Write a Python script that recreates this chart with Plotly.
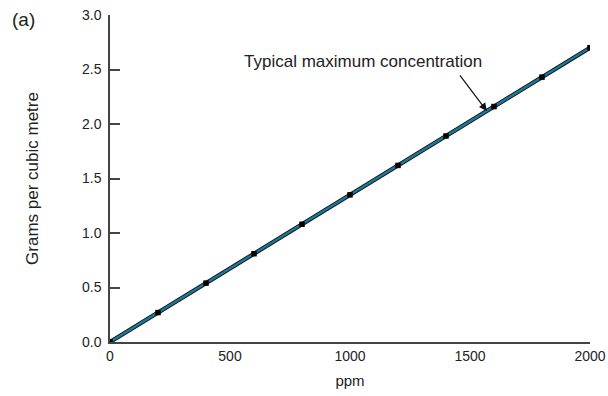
import plotly.graph_objects as go

# concentration in ppm vs grams per cubic metre
ppm = [0, 200, 400, 600, 800, 1000, 1200, 1400, 1600, 1800, 2000]
grams = [0.0, 0.27, 0.54, 0.81, 1.08, 1.35, 1.62, 1.89, 2.16, 2.43, 2.70]

y_ticks = [0.0, 0.5, 1.0, 1.5, 2.0, 2.5, 3.0]
y_labels = ["0.0", "0.5", "1.0", "1.5", "2.0", "2.5", "3.0"]
x_ticks = [0, 500, 1000, 1500, 2000]

fig = go.Figure()

# dark outline under the teal line
fig.add_trace(go.Scatter(
    x=ppm, y=grams, mode="lines",
    line=dict(color="#111111", width=4.2),
    hoverinfo="skip", showlegend=False,
))
fig.add_trace(go.Scatter(
    x=ppm, y=grams, mode="lines+markers",
    line=dict(color="#1b7898", width=2.4),
    marker=dict(symbol="square", size=5.5, color="black"),
    showlegend=False,
))

fig.add_annotation(
    x=1570, y=2.12, xref="x", yref="y",
    ax=-28, ay=-37, text="",
    showarrow=True, arrowhead=2, arrowsize=1.3, arrowwidth=1.2, arrowcolor="#111111",
)
fig.add_annotation(
    x=1055, y=2.57, xref="x", yref="y",
    text="Typical maximum concentration", showarrow=False,
    font=dict(size=17, color="#222222"),
)
fig.add_annotation(
    x=-0.208, y=1.025, xref="paper", yref="paper",
    text="(a)", showarrow=False, xanchor="left", yanchor="top",
    font=dict(size=19, color="#222222"),
)

fig.update_layout(
    width=608, height=396,
    margin=dict(l=110, r=18, t=15, b=54),
    plot_bgcolor="white", paper_bgcolor="white",
    font=dict(family="Liberation Sans, Arial, sans-serif", size=14, color="#222222"),
    xaxis=dict(
        range=[0, 2000], tickvals=x_ticks, showgrid=False, zeroline=False,
        showline=True, linecolor="#444444", linewidth=1.5, automargin=False,
        ticks="", title=dict(text="ppm", font=dict(size=15), standoff=13),
    ),
    yaxis=dict(
        range=[0, 3], tickvals=y_ticks, ticktext=y_labels, showgrid=False, zeroline=False,
        showline=True, linecolor="#444444", linewidth=1.5, automargin=False,
        ticks="inside", ticklen=10, tickwidth=1.5, tickcolor="#444444", ticklabelstandoff=4,
        title=dict(text="Grams per cubic metre", font=dict(size=17), standoff=39),
    ),
)

fig.write_html("out.html", config={"displayModeBar": False},
               post_script="document.body.style.margin='0';")
